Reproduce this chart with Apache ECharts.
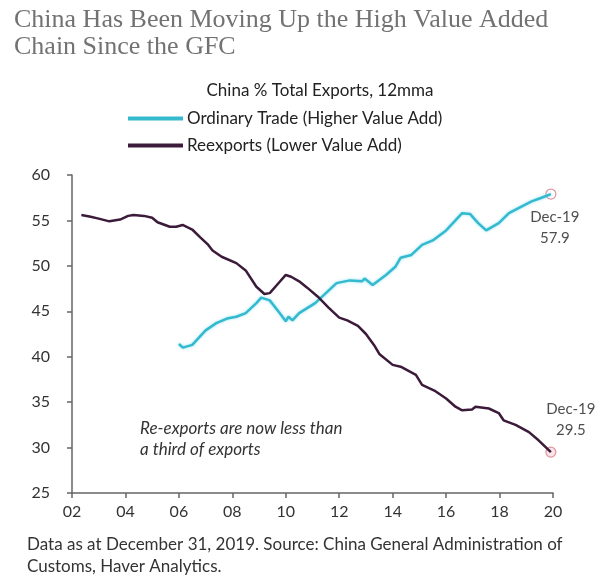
<!DOCTYPE html>
<html>
<head>
<meta charset="utf-8">
<script src="https://cdn.jsdelivr.net/npm/echarts@6/dist/echarts.min.js"></script>
<style>html,body{margin:0;padding:0;background:#fff}#c{width:600px;height:588px}</style>
</head>
<body>
<div id="c"></div>
<script>
var xTicks = ['02','04','06','08','10','12','14','16','18','20'];
var yTicks = [25,30,35,40,45,50,55,60];

var ordYears = [2006.0,2006.15,2006.5,2007.0,2007.4,2007.8,2008.15,2008.5,2008.9,2009.08,2009.4,2009.77,2010.0,2010.1,2010.25,2010.5,2011.1,2011.5,2011.9,2012.4,2012.85,2012.95,2013.25,2013.75,2014.1,2014.3,2014.7,2015.1,2015.5,2016.0,2016.35,2016.6,2016.9,2017.2,2017.5,2017.97,2018.35,2018.8,2019.2,2019.57,2019.92];
var ordVals  = [41.4,41.0,41.3,42.9,43.7,44.2,44.4,44.8,45.9,46.5,46.2,44.8,43.9,44.4,44.0,44.8,45.9,47.0,48.1,48.4,48.3,48.6,47.9,49.0,49.9,50.9,51.2,52.3,52.8,53.9,55.0,55.8,55.7,54.7,53.9,54.7,55.8,56.5,57.1,57.5,57.9];

var reYears = [2002.35,2002.7,2003.0,2003.4,2003.8,2004.1,2004.3,2004.7,2005.0,2005.2,2005.66,2005.9,2006.14,2006.5,2006.78,2007.1,2007.26,2007.6,2008.15,2008.5,2008.9,2009.2,2009.4,2009.7,2010.0,2010.2,2010.5,2010.8,2011.2,2011.6,2012.0,2012.3,2012.7,2013.0,2013.3,2013.5,2014.0,2014.3,2014.87,2015.1,2015.6,2016.0,2016.35,2016.6,2016.97,2017.1,2017.6,2017.97,2018.15,2018.6,2019.1,2019.46,2019.92];
var reVals  = [55.6,55.4,55.2,54.9,55.1,55.5,55.6,55.5,55.3,54.8,54.3,54.3,54.5,54.0,53.2,52.3,51.7,51.0,50.3,49.5,47.7,46.9,47.0,48.0,49.0,48.8,48.3,47.6,46.6,45.4,44.3,44.0,43.4,42.5,41.3,40.3,39.1,38.9,38.0,36.9,36.2,35.4,34.5,34.1,34.2,34.5,34.3,33.8,33.0,32.5,31.7,30.8,29.5];

var endLabel = 'Dec-19';

function pairs(xs, ys){ return xs.map(function(x,i){return [x, ys[i]];}); }
var ordData = pairs(ordYears, ordVals);
var reData = pairs(reYears, reVals);
var ordLast = ordData[ordData.length-1];
var reLast = reData[reData.length-1];

var chart = echarts.init(document.getElementById('c'));
var sans = 'Lato';
chart.setOption({
  animation: false,
  backgroundColor: '#fff',
  title: [
    {text: 'China Has Been Moving Up the High Value Added\nChain Since the GFC', left: 9, top: 2,
     textStyle: {fontFamily: 'Liberation Serif', fontWeight: 'normal', fontSize: 26, color: '#727272', lineHeight: 27}},
    {text: 'China % Total Exports, 12mma', left: 315, top: 77, textAlign: 'center',
     textStyle: {fontFamily: sans, fontWeight: 'normal', fontSize: 17, color: '#222'}}
  ],
  legend: {
    orient: 'vertical', left: 128, top: 110, itemWidth: 55, itemHeight: 4, itemGap: 10,
    padding: 0, icon: 'rect',
    textStyle: {fontFamily: sans, fontSize: 17, color: '#222', padding: [0,0,0,-1]},
    data: ['Ordinary Trade (Higher Value Add)', 'Reexports (Lower Value Add)']
  },
  grid: {left: 72, right: 47, top: 175, bottom: 95},
  xAxis: {
    type: 'value', min: 2002, max: 2020, interval: 2,
    axisLine: {lineStyle: {color: '#666', width: 1.5}},
    axisTick: {show: true, length: 5, lineStyle: {color: '#666', width: 1.5}},
    splitLine: {show: false},
    axisLabel: {fontFamily: sans, fontSize: 16, color: '#333', margin: 11,
      formatter: function(v){ var i = Math.round((v-2002)/2); return xTicks[i] || ''; }}
  },
  yAxis: {
    type: 'value', min: 25, max: 60, interval: 5,
    axisLine: {show: true, lineStyle: {color: '#666', width: 1.5}},
    axisTick: {show: true, length: 5, lineStyle: {color: '#666', width: 1.5}},
    splitLine: {show: false},
    axisLabel: {fontFamily: sans, fontSize: 16, color: '#333', margin: 22,
      formatter: function(v){ return yTicks.indexOf(v) >= 0 ? String(v) : ''; }}
  },
  series: [
    {name: 'Ordinary Trade (Higher Value Add)', type: 'line', data: ordData, showSymbol: false,
     lineStyle: {color: '#35b9cf', width: 2.5, shadowColor: 'rgba(80,210,235,0.6)', shadowBlur: 3}, itemStyle: {color: '#35b9cf'}},
    {name: 'Reexports (Lower Value Add)', type: 'line', data: reData, showSymbol: false,
     lineStyle: {color: '#3b1a3a', width: 2.5}, itemStyle: {color: '#3b1a3a'}},
    {type: 'scatter', data: [ordLast], symbol: 'circle', symbolSize: 10, silent: true,
     itemStyle: {color: 'rgba(255,255,255,0.3)', borderColor: '#d97a88', borderWidth: 1.2},
     label: {show: true, position: 'bottom', distance: 7, offset: [4, 0], align: 'center', fontFamily: sans, fontSize: 15, color: '#222', lineHeight: 21,
       formatter: function(p){ return endLabel + '\n' + p.value[1].toFixed(1); }}},
    {type: 'scatter', data: [reLast], symbol: 'circle', symbolSize: 10, silent: true,
     itemStyle: {color: 'rgba(230,150,160,0.3)', borderColor: '#d97a88', borderWidth: 1.2},
     label: {show: true, position: 'top', distance: 6, offset: [20, 0], align: 'center', fontFamily: sans, fontSize: 15, color: '#222', lineHeight: 21,
       formatter: function(p){ return endLabel + '\n' + p.value[1].toFixed(1); }}}
  ],
  graphic: [
    {type: 'text', left: 140, top: 418, style: {text: 'Re-exports are now less than\na third of exports', font: 'italic 17px Lato', fill: '#333', lineHeight: 21}},
    {type: 'text', left: 27, top: 534, style: {text: 'Data as at December 31, 2019. Source: China General Administration of\nCustoms, Haver Analytics.', font: '17px Lato', fill: '#333', lineHeight: 22}}
  ]
});
</script>
</body>
</html>
